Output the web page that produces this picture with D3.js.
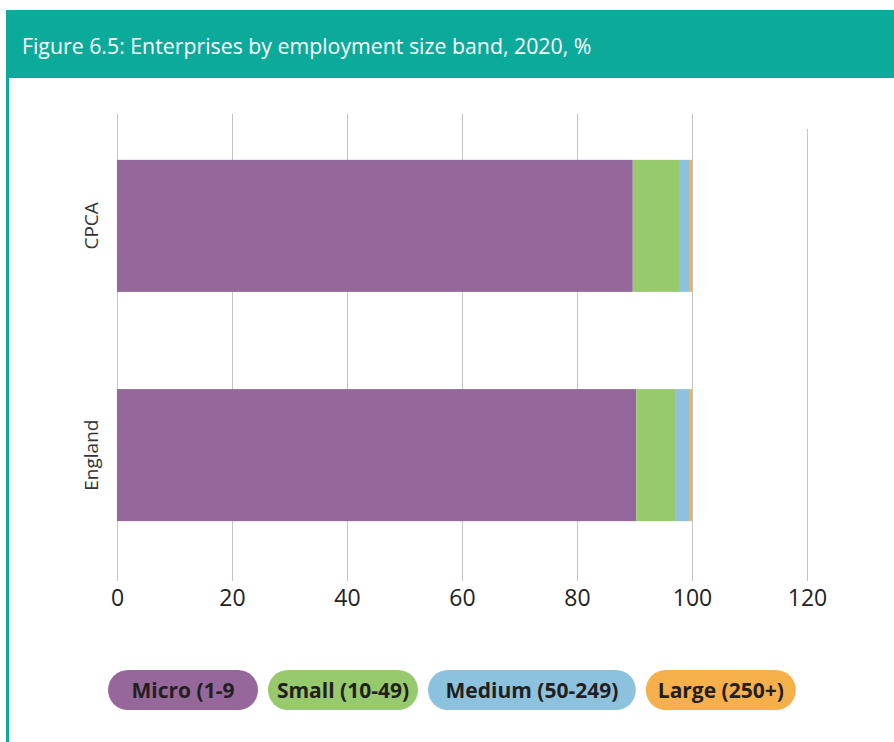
<!DOCTYPE html>
<html><head><meta charset="utf-8">
<script src="https://cdn.jsdelivr.net/npm/d3@7"></script>
<style>
html,body{margin:0;padding:0;background:#fff;}
svg{display:block;}
</style></head>
<body>
<svg id="chart" width="894" height="742"></svg>
<script>
const title = "Figure 6.5: Enterprises by employment size band, 2020, %";
const categories = ["CPCA", "England"];
const seriesNames = ["Micro (1-9", "Small (10-49)", "Medium (50-249)", "Large (250+)"];
const micro  = [89.7, 90.3];
const small  = [8.2, 6.9];
const medium = [1.6, 2.3];
const large  = [0.5, 0.5];
const tickValues = [0, 20, 40, 60, 80, 100, 120];
const colors = ["#96679B", "#97CA6D", "#8DC2DF", "#F5B04B"];

const teal = "#0BAA9A";
const svg = d3.select("#chart");
svg.append("rect").attr("x",0).attr("y",0).attr("width",894).attr("height",742).attr("fill","#fff");
svg.append("rect").attr("x",6).attr("y",10).attr("width",888).attr("height",68).attr("fill",teal);
svg.append("rect").attr("x",6).attr("y",10).attr("width",3).attr("height",732).attr("fill",teal);
svg.append("text").attr("x",22).attr("y",54).attr("fill","#fff")
  .style("font-family","'Open Sans', sans-serif").style("font-size","21.3px").text(title);

const x = d3.scaleLinear().domain([0,120]).range([117,807]);
const y = d3.scaleBand().domain(categories).range([114,567]).paddingInner(0.424).paddingOuter(0.2);

// gridlines
const gridTop = 114, gridBottom = 581;
svg.append("g").selectAll("line").data(tickValues).join("line")
  .attr("x1",d=>Math.round(x(d))+0.5).attr("x2",d=>Math.round(x(d))+0.5)
  .attr("y1",(d,i)=> i===tickValues.length-1 ? gridTop+15 : gridTop)
  .attr("y2",gridBottom)
  .attr("stroke","#c4c4c4").attr("stroke-width",1);

// stacked data
const rows = categories.map((c,i)=>({cat:c, "Micro (1-9":micro[i], "Small (10-49)":small[i], "Medium (50-249)":medium[i], "Large (250+)":large[i]}));
const stack = d3.stack().keys(seriesNames)(rows);
svg.append("g").selectAll("g").data(stack).join("g")
  .attr("fill",(d,i)=>colors[i])
  .selectAll("rect").data(d=>d).join("rect")
  .attr("x",d=>x(d[0])).attr("width",d=>x(d[1])-x(d[0]))
  .attr("y",d=>y(d.data.cat)).attr("height",y.bandwidth());

// x axis labels
const xAxis = d3.axisBottom(x).tickValues(tickValues).tickSize(0).tickPadding(0);
const gx = svg.append("g").attr("transform","translate(0,590)").call(xAxis);
gx.select(".domain").remove();
gx.selectAll("text").attr("fill","#222").attr("dy","0.71em")
  .style("font-family","'Open Sans', sans-serif").style("font-size","23px");

// y labels
const yAxis = d3.axisLeft(y).tickSize(0).tickPadding(0);
const gy = svg.append("g").attr("transform","translate(98,0)").call(yAxis);
gy.select(".domain").remove();
gy.selectAll("text").attr("transform","rotate(-90)").attr("x",0).attr("y",0).attr("dy",0)
  .attr("text-anchor","middle").attr("fill","#333")
  .style("font-family","'Open Sans', sans-serif").style("font-size","19px");
gy.selectAll(".tick").attr("transform",d=>`translate(0,${y(d)+y.bandwidth()/2})`);

// legend
const lg = svg.append("g");
let lx = 108;
seriesNames.forEach((name,i)=>{
  const t = lg.append("text").attr("y",698).attr("fill","#231f20").attr("text-anchor","middle")
    .style("font-family","'Open Sans', sans-serif").style("font-size","21px").style("font-weight","bold")
    .text(name);
  const tw = t.node().getComputedTextLength();
  const w = tw > 150 ? tw + 35 : 150;
  lg.insert("rect","text").attr("x",lx).attr("y",670).attr("width",w).attr("height",40)
    .attr("rx",20).attr("ry",20).attr("fill",colors[i]);
  t.attr("x",lx+w/2);
  lx += w + 10;
});
</script>
</body></html>
